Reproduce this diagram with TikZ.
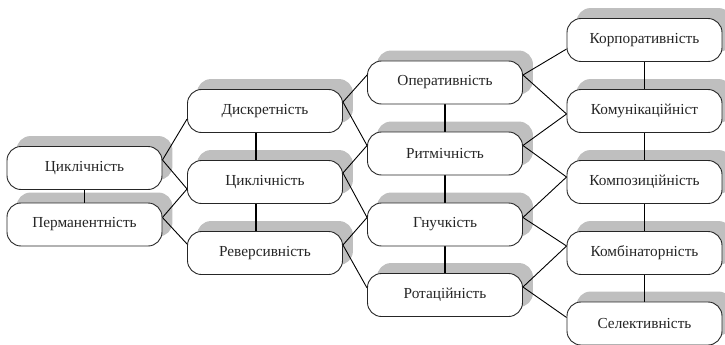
\documentclass[tikz,border=0pt]{standalone}
\usepackage{fontspec}
\setmainfont{Liberation Serif}
\pgfdeclarelayer{shadows}
\pgfdeclarelayer{front}
\pgfsetlayers{shadows,main,front}
\definecolor{shadowgray}{HTML}{BFBFBF}
\definecolor{edgegray}{HTML}{262626}
\tikzset{
  box/.style={draw=edgegray, line width=0.9pt, fill=white, rounded corners=14pt,
    minimum width=155pt, minimum height=43pt, inner sep=0pt, text=black!85,
    font=\rmfamily\fontsize{15.3}{18}\selectfont},
  link/.style={line width=0.9pt},
  stem/.style={line width=1.6pt},
  boxshadow/.style={fill=shadowgray, rounded corners=14pt},
}
\newcommand\castshadow[1]{%
  \path[boxshadow] ([xshift=10pt,yshift=10pt]#1.south west)
    rectangle ([xshift=10pt,yshift=10pt]#1.north east);}

\begin{document}
\begin{tikzpicture}[x=1pt,y=-1pt]
\useasboundingbox (0,0) rectangle (725,345);

\begin{pgfonlayer}{front}
  % first column
  \node[box] (ca) at (84.5,168)   {Циклічність};
  \node[box] (pe) at (84.5,224.5) {Перманентність};
  % second column
  \node[box] (di) at (265,111)    {Дискретність};
  \node[box] (cb) at (265,182)    {Циклічність};
  \node[box] (re) at (265,253)    {Реверсивність};
  % third column
  \node[box] (op) at (445,82.5)   {Оперативність};
  \node[box] (ry) at (445,153.5)  {Ритмічність};
  \node[box] (hn) at (445,224.5)  {Гнучкість};
  \node[box] (ro) at (445,295)    {Ротаційність};
  % fourth column
  \node[box] (ko) at (644.5,40)   {Корпоративність};
  \node[box] (km) at (644.5,111)  {Комунікаційніст};
  \node[box] (kp) at (644.5,182)  {Композиційність};
  \node[box] (kb) at (644.5,253)  {Комбінаторність};
  \node[box] (se) at (644.5,323.5){Селективність};
\end{pgfonlayer}

\begin{pgfonlayer}{shadows}
  \foreach \n in {ca,pe,di,cb,re,op,ry,hn,ro,ko,km,kp,kb,se}{\castshadow{\n}}
\end{pgfonlayer}

% vertical stems inside each column
\draw[stem] (ca.south) -- (pe.north);
\draw[stem] ([xshift=-9pt]di.south) -- ([xshift=-9pt]cb.north);
\draw[stem] ([xshift=-9pt]cb.south) -- ([xshift=-9pt]re.north);
\draw[stem] (op.south) -- (ry.north);
\draw[stem] (ry.south) -- (hn.north);
\draw[stem] (hn.south) -- (ro.north);
\draw[stem] (ko.south) -- (km.north);
\draw[stem] (km.south) -- (kp.north);
\draw[stem] (kp.south) -- (kb.north);
\draw[stem] (kb.south) -- (se.north);

% first -> second column
\draw[link] ([yshift=8pt]ca.east) -- ([yshift=-8pt]di.west);
\draw[link] ([yshift=8pt]ca.east) -- ([yshift=-7pt]cb.west);
\draw[link] ([yshift=7pt]pe.east) -- ([yshift=-7pt]cb.west);
\draw[link] ([yshift=7pt]pe.east) -- ([yshift=9pt]re.west);
% second -> third column
\draw[link] ([yshift=9pt]di.east) -- ([yshift=7.5pt]op.west);
\draw[link] ([yshift=9pt]di.east) -- ([yshift=8pt]ry.west);
\draw[link] ([yshift=9pt]cb.east) -- ([yshift=8pt]ry.west);
\draw[link] ([yshift=9pt]cb.east) -- ([yshift=7pt]hn.west);
\draw[link] ([yshift=8pt]re.east) -- ([yshift=7pt]hn.west);
\draw[link] ([yshift=8pt]re.east) -- ([yshift=7pt]ro.west);
% third -> fourth column
\draw[link] ([yshift=7.5pt]op.east) -- ([yshift=-9pt]ko.west);
\draw[link] ([yshift=7.5pt]op.east) -- ([yshift=-3pt]km.west);
\draw[link] ([yshift=8pt]ry.east) -- ([yshift=-3pt]km.west);
\draw[link] ([yshift=8pt]ry.east) -- ([yshift=5pt]kp.west);
\draw[link] ([yshift=7pt]hn.east) -- ([yshift=5pt]kp.west);
\draw[link] ([yshift=7pt]hn.east) -- ([yshift=7pt]kb.west);
\draw[link] ([yshift=8pt]ro.east) -- ([yshift=7pt]kb.west);
\draw[link] ([yshift=8pt]ro.east) -- ([yshift=6pt]se.west);
\end{tikzpicture}
\end{document}
